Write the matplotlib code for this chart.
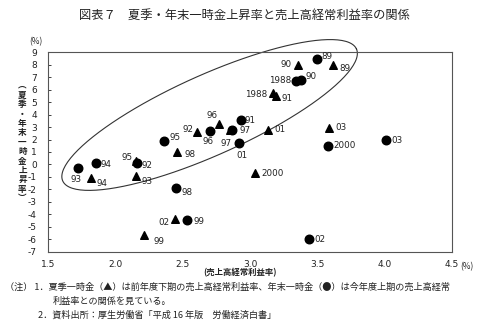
import numpy as np
import matplotlib
matplotlib.use("Agg")
import matplotlib.pyplot as plt

plt.rcParams["font.family"] = ["Noto Sans CJK JP", "DejaVu Sans"]

# data
years = ["1988", "89", "90", "91", "92", "93", "94", "95",
         "96", "97", "98", "99", "2000", "01", "02", "03"]

# summer bonus (triangle): previous half-year ordinary profit ratio
summer_x = [3.17, 3.62, 3.36, 3.19, 2.61, 2.15, 1.82, 2.15,
            2.77, 2.85, 2.46, 2.21, 3.04, 3.13, 2.44, 3.59]
summer_y = [5.7, 8.0, 8.0, 5.5, 2.6, -0.9, -1.1, 0.25,
            3.25, 2.8, 1.0, -5.7, -0.65, 2.8, -4.4, 2.95]

# year-end bonus (circle)
winter_x = [3.34, 3.50, 3.38, 2.93, 2.16, 1.72, 1.86, 2.36,
            2.70, 2.87, 2.45, 2.53, 3.58, 2.92, 3.44, 4.01]
winter_y = [6.7, 8.45, 6.8, 3.55, 0.1, -0.3, 0.1, 1.85,
            2.7, 2.75, -1.9, -4.45, 1.5, 1.7, -5.95, 1.95]

x_ticks = [1.5, 2.0, 2.5, 3.0, 3.5, 4.0, 4.5]
y_ticks = list(range(-7, 10))

# label offsets in points (dx, dy, ha)
summer_off = {
    "1988": (-4, -1, "right"), "89": (4, -3, "left"), "90": (-5, 0, "right"),
    "91": (4, -2, "left"), "92": (-3, 2, "right"), "93": (4, -4, "left"),
    "94": (4, -4, "left"), "95": (-2, 3, "right"), "96": (-5, 6, "center"),
    "97": (-3, -10, "center"), "98": (5, -2, "left"), "99": (7, -4, "left"),
    "2000": (4, -1, "left"), "01": (5, 0, "left"), "02": (-4, -2, "right"),
    "03": (4, 0, "left"),
}
winter_off = {
    "1988": (-3, 0, "right"), "89": (3, 2, "left"), "90": (3, 2, "left"),
    "91": (3, 0, "left"), "92": (3, -2, "left"), "93": (-1, -8, "center"),
    "94": (3, -1, "left"), "95": (4, 3, "left"), "96": (-1, -8, "center"),
    "97": (5, 0, "left"), "98": (4, -3, "left"), "99": (5, -1, "left"),
    "2000": (4, 0, "left"), "01": (2, -9, "center"), "02": (4, -1, "left"),
    "03": (4, 0, "left"),
}

fig = plt.figure(figsize=(5.0, 3.31), dpi=100)
ax = fig.add_axes([0.096, 0.2396, 0.808, 0.6024])

ax.scatter(summer_x, summer_y, marker="^", s=30, color="black", zorder=3)
ax.scatter(winter_x, winter_y, marker="o", s=38, color="black", zorder=3)

for yr, x, y in zip(years, summer_x, summer_y):
    dx, dy, ha = summer_off[yr]
    ax.annotate(yr, (x, y), xytext=(dx, dy), textcoords="offset points",
                ha=ha, va="center", fontsize=6.3, color="#222222",
                family="DejaVu Sans")
for yr, x, y in zip(years, winter_x, winter_y):
    dx, dy, ha = winter_off[yr]
    ax.annotate(yr, (x, y), xytext=(dx, dy), textcoords="offset points",
                ha=ha, va="center", fontsize=6.3, color="#222222",
                family="DejaVu Sans")

ax.set_xlim(1.5, 4.5)
ax.set_ylim(-7, 9)

# hand-drawn ellipse around the 1988-1997 points (pixel units -> data units)
px_per_x = 0.808 * 500 / 3.0
px_per_y = 0.6024 * 331 / 16.0
t = np.linspace(0, 2 * np.pi, 200)
a, b, ang = 161, 40, np.deg2rad(24.2)
ex = a * np.cos(t) * np.cos(ang) - b * np.sin(t) * np.sin(ang)
ey = a * np.cos(t) * np.sin(ang) + b * np.sin(t) * np.cos(ang)
ax.plot(2.70 + ex / px_per_x, 3.97 + ey / px_per_y, color="#333333",
        lw=0.8, clip_on=False)

ax.set_xticks(x_ticks)
ax.set_xticklabels([f"{v:.1f}" for v in x_ticks], family="DejaVu Sans")
ax.set_yticks(y_ticks)
ax.set_yticklabels([str(v) for v in y_ticks], family="DejaVu Sans")
ax.tick_params(axis="x", length=0, labelsize=6.5, pad=6, colors="#222222")
ax.tick_params(axis="y", direction="in", length=2.5, width=0.6,
               labelsize=6.5, pad=8, colors="#222222")
for sp in ax.spines.values():
    sp.set_linewidth(0.8)
    sp.set_color("#555555")

fig.text(0.488, 0.955, "図表７　夏季・年末一時金上昇率と売上高経常利益率の関係",
         ha="center", va="center", fontsize=8.8, color="#222222")
fig.text(0.072, 0.875, "(%)", ha="center", va="center", fontsize=6,
         color="#222222")
fig.text(0.934, 0.193, "(%)", ha="center", va="center", fontsize=6,
         color="#222222")
fig.text(0.48, 0.176, "(売上高経常利益率)", ha="center", va="center",
         fontsize=6, color="#222222", weight="bold")

vlabel = "︵夏季・年末一時金上昇率︶"
fig.text(0.045, 0.57, "\n".join(vlabel), ha="center", va="center",
         fontsize=6.2, linespacing=1.05, color="#222222", weight="bold")

fig.text(0.01, 0.132,
         "（注） 1．夏季一時金（▲）は前年度下期の売上高経常利益率、年末一時金（●）は今年度上期の売上高経常",
         ha="left", va="center", fontsize=6.6, color="#222222")
fig.text(0.106, 0.09, "利益率との関係を見ている。",
         ha="left", va="center", fontsize=6.6, color="#222222")
fig.text(0.076, 0.048, "2．資料出所：厚生労働省「平成 16 年版　労働経済白書」",
         ha="left", va="center", fontsize=6.6, color="#222222")

fig.savefig("out.png", dpi=100)
